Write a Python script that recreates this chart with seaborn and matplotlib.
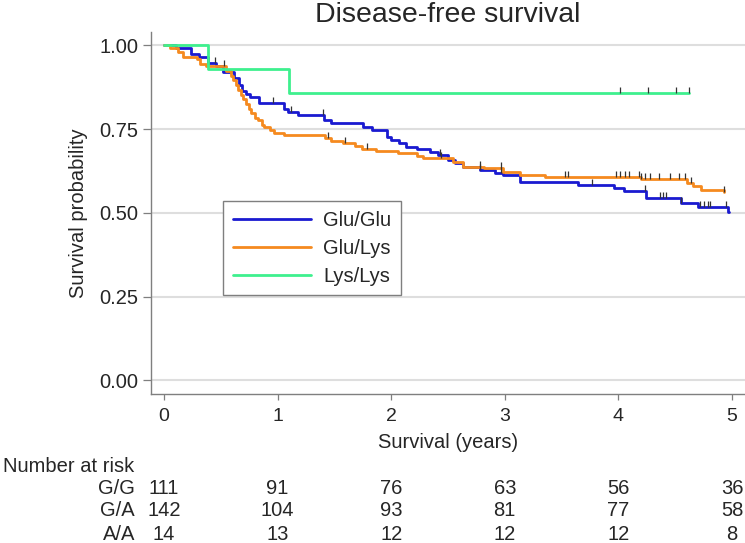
import numpy as np
import matplotlib
matplotlib.use('Agg')
import matplotlib.pyplot as plt
import matplotlib.transforms as mtransforms
import seaborn as sns

'''
step data read off the chart (time in years, survival probability)
'''
groups = ['Glu/Glu', 'Glu/Lys', 'Lys/Lys']
colors = ['#1a1ad0', '#f58a1f', '#3ef08e']

t_gg = [0, 0.11, 0.24, 0.31, 0.385, 0.46, 0.52, 0.62, 0.66, 0.69, 0.72, 0.76,
        0.84, 1.06, 1.09, 1.18, 1.41, 1.47, 1.75, 1.83, 1.96, 2.0, 2.07, 2.13,
        2.23, 2.34, 2.41, 2.50, 2.56, 2.63, 2.78, 2.91, 2.98, 3.13, 3.64, 3.96,
        4.05, 4.24, 4.55, 4.70, 4.96, 4.97]
s_gg = [1.0, 0.991, 0.973, 0.964, 0.946, 0.937, 0.919, 0.901, 0.883, 0.865,
        0.856, 0.847, 0.829, 0.811, 0.802, 0.793, 0.777, 0.767, 0.757, 0.747,
        0.727, 0.717, 0.707, 0.697, 0.692, 0.682, 0.673, 0.658, 0.648, 0.638,
        0.628, 0.618, 0.613, 0.593, 0.583, 0.575, 0.565, 0.543, 0.530, 0.518,
        0.503, 0.503]

t_ga = [0, 0.05, 0.12, 0.17, 0.29, 0.32, 0.37, 0.55, 0.59, 0.61, 0.63, 0.65,
        0.68, 0.70, 0.72, 0.75, 0.77, 0.80, 0.83, 0.86, 0.88, 0.93, 0.97, 1.06,
        1.42, 1.47, 1.58, 1.68, 1.74, 1.87, 2.06, 2.23, 2.28, 2.54, 2.63, 2.82,
        2.98, 3.13, 3.35, 4.2, 4.6, 4.66, 4.73, 4.93]
s_ga = [1.0, 0.993, 0.979, 0.965, 0.958, 0.944, 0.937, 0.923, 0.909, 0.895,
        0.881, 0.867, 0.853, 0.839, 0.825, 0.811, 0.797, 0.783, 0.776, 0.762,
        0.755, 0.748, 0.739, 0.732, 0.722, 0.714, 0.707, 0.700, 0.692, 0.685,
        0.678, 0.671, 0.663, 0.651, 0.638, 0.633, 0.623, 0.613, 0.606, 0.600,
        0.590, 0.580, 0.568, 0.561]

t_aa = [0, 0.385, 1.10, 4.62]
s_aa = [1.0, 0.929, 0.857, 0.857]

'''
censored observations (years)
'''
cens_gg = [0.45, 0.96, 1.12, 1.40, 2.43, 2.78, 2.97, 3.77, 4.23, 4.37, 4.39,
           4.42, 4.55, 4.72, 4.75, 4.79, 4.81, 4.95]
cens_ga = [0.53, 1.44, 1.59, 1.79, 2.44, 2.78, 2.97, 3.53, 3.56, 3.98, 4.01,
           4.06, 4.09, 4.18, 4.20, 4.23, 4.28, 4.36, 4.45, 4.53, 4.59, 4.64,
           4.93]
cens_aa = [4.01, 4.26, 4.51, 4.62]

'''
number at risk table
'''
risk_labels = ['G/G', 'G/A', 'A/A']
risk_times = [0, 1, 2, 3, 4, 5]
risk_gg = [111, 91, 76, 63, 56, 36]
risk_ga = [142, 104, 93, 81, 77, 58]
risk_aa = [14, 13, 12, 12, 12, 8]

sns.set_style('white')
plt.rcParams['font.family'] = ['Liberation Sans', 'DejaVu Sans']

fig = plt.figure(figsize=(7.45, 5.43), dpi=100)
ax = fig.add_axes([151 / 745, 1 - 394 / 543, 594 / 745, 362 / 543])

curves = [(t_gg, s_gg, cens_gg), (t_ga, s_ga, cens_ga), (t_aa, s_aa, cens_aa)]
for (t, s, cens), name, col in zip(curves, groups, colors):
    sns.lineplot(x=t, y=s, drawstyle='steps-post', color=col, lw=2,
                 label=name, estimator=None, ax=ax)
    t_arr = np.array(t)
    s_arr = np.array(s)
    idx = np.searchsorted(t_arr, cens, side='right') - 1
    ax.plot(cens, s_arr[idx], ls='none', marker=2, ms=4.5, mew=0.9,
            color='#333333', zorder=4)

ax.set_xlim(-0.114, 5.114)
ax.set_ylim(-0.0406, 1.0397)
ax.set_xticks(range(6))
ax.set_yticks([0, 0.25, 0.5, 0.75, 1.0])
ax.set_yticklabels(['0.00', '0.25', '0.50', '0.75', '1.00'])
ax.yaxis.grid(True, color='#dedede', lw=1.5)
ax.xaxis.grid(False)
ax.set_axisbelow(True)

for side in ['top', 'right']:
    ax.spines[side].set_visible(False)
for side in ['left', 'bottom']:
    ax.spines[side].set_color('#7f7f7f')
    ax.spines[side].set_linewidth(1.0)

ax.tick_params(axis='y', direction='out', length=6, width=0.9,
               color='#7f7f7f', labelsize=14.5, pad=3, left=True)
ax.tick_params(axis='x', direction='out', length=4, width=0.9,
               color='#7f7f7f', labelsize=14, pad=6, bottom=True)

ax.set_title('Disease-free survival', fontsize=20.5, pad=7)
ax.set_xlabel('Survival (years)', fontsize=14.5)
ax.set_ylabel('Survival probability', fontsize=14.5)
ax.xaxis.set_label_coords(0.5, -(443 - 394) / 362)
ax.xaxis.label.set_va('center')
ax.yaxis.set_label_coords(-(151 - 78) / 594, 0.5)
ax.yaxis.label.set_va('center')

leg = ax.legend(loc='upper left', bbox_to_anchor=(72 / 594, 193 / 362),
                frameon=True, fancybox=False, framealpha=1,
                edgecolor='#7f7f7f', fontsize=14.5, handlelength=3.9,
                handletextpad=0.6, labelspacing=0.45, borderpad=0.48,
                borderaxespad=0)
leg.get_frame().set_linewidth(1.0)

'''
number at risk below the axes
'''
trans = mtransforms.blended_transform_factory(ax.transData, fig.transFigure)
fig.text(3 / 745, 1 - 466 / 543, 'Number at risk', fontsize=14.5,
         ha='left', va='center')
rows_y = [488, 511, 534]
for lab, vals, yp in zip(risk_labels, [risk_gg, risk_ga, risk_aa], rows_y):
    fig.text(135 / 745, 1 - yp / 543, lab, fontsize=14.5, ha='right',
             va='center')
    for tx, v in zip(risk_times, vals):
        ax.text(tx, 1 - yp / 543, str(v), fontsize=14.5, ha='center',
                va='center', transform=trans, clip_on=False)

fig.savefig('out.png', dpi=100)
